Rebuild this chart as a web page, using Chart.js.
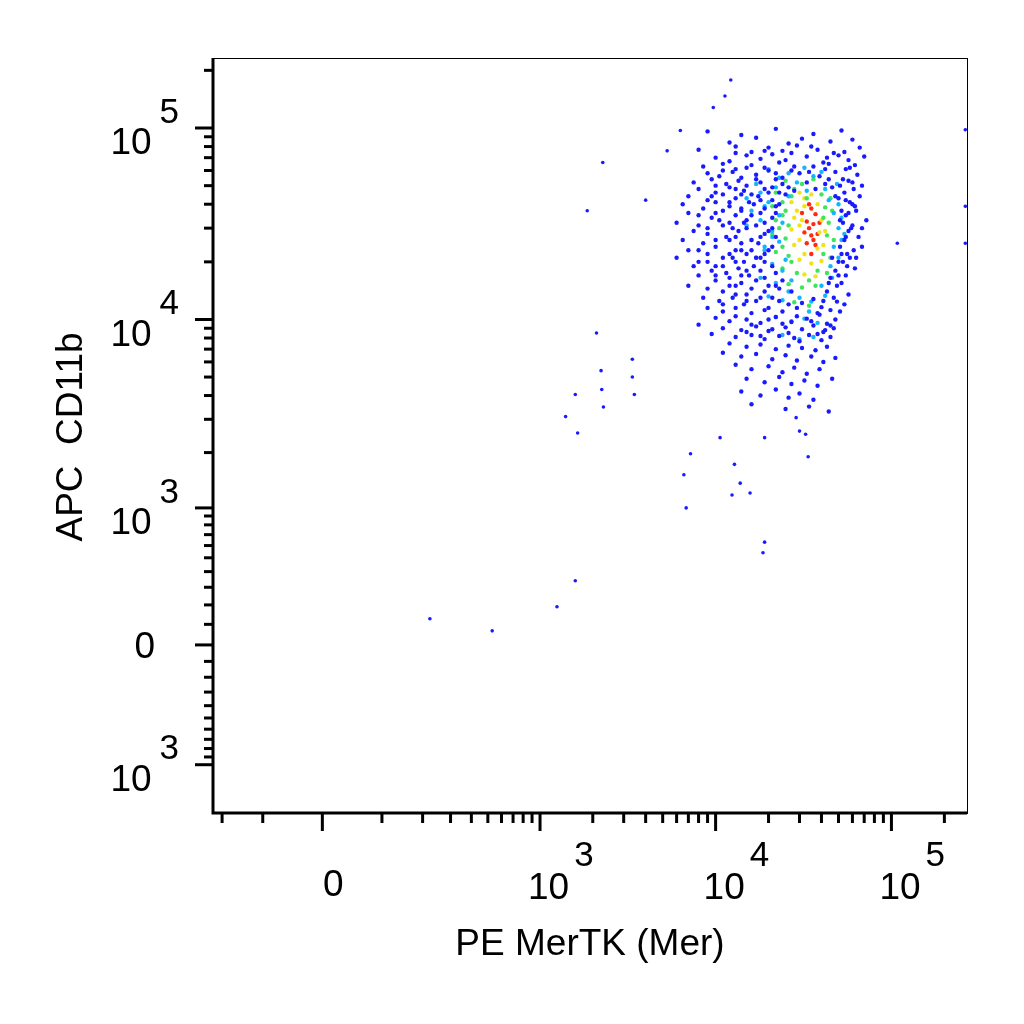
<!DOCTYPE html>
<html>
<head>
<meta charset="utf-8">
<script src="https://cdn.jsdelivr.net/npm/chart.js@4"></script>
<style>html,body{margin:0;padding:0;background:#fff}</style>
</head>
<body>
<canvas id="c" width="1024" height="1024"></canvas>
<script>
// axis settings (biexponential-ish display: asinh with separate widths for + and - sides)
const xRange = [-229, 269000];
const yRange = [-1860, 232000];
const xWidth = [116, 116];
const yWidth = [400, 502];
const xLabelTicks = [0, 1000, 10000, 100000];
const yLabelTicks = [-1000, 0, 1000, 10000, 100000];
const xLabelText = ["0", "10|3", "10|4", "10|5"];
const yLabelText = ["10|3", "0", "10|3", "10|4", "10|5"];

// events, values in thousands [x, y]
const outliers = [[0.223,0.128],[0.53,0.068],[1.25,0.19],[1.59,0.34],[18.6,0.54],[19,0.63],[12.4,1.18],[15.7,1.21],
  [6.8,1.0],[6.6,1.52],[7.2,1.97],[12.8,1.73],[13.8,1.37],[1.64,2.54],[1.4,3.1],[1.59,4.05],[2.3,3.48],[2.25,4.3],
  [2.23,5.4],[2.1,8.5],[3.36,5.0],[3.36,6.2],[3.45,4.05],[1.86,37],[2.28,66],[4.0,42],[5.3,76],[6.3,97],[9.7,128],
  [12.2,178],[11.3,147],[108,25],[263,98],[263,39],[263,25],[33.6,1.9],[30,2.6],[28.7,3.06],[32.5,2.5],[19,2.4],[10.6,2.4]];

const blue = [
  [9,96],[14,92],[22,99],[36,93],[52,97],
  [12,84],[17,89],[26,83],[31,88],[45,85],[60,87],
  [8,77],[13,80],[16,75],[20,79],[24,76],[29,81],[38,77],[47,74],[66,79],
  [10,70],[12,67],[15,72],[18,69],[21,73],[25,68],[33,71],[41,66],[50,72],[57,68],[70,71],
  [8.5,63],[11,65],[13,61],[16,64],[19,62],[23,66],[27,60],[36,63],[44,65],[55,61],[62,64],
  [9,58],[10.5,56],[12.5,59],[14,55],[17,57],[20,60],[24,55],[30,58],[39,56],[48,59],[53,54],[64,57],
  [7.5,52],[9.5,54],[11.5,51],[13.5,53],[15,50],[18,52],[22,54],[26,49],[33,52],[42,51],[57,53],[68,50],
  [8,48],[10,46],[12,49],[14.5,47],[16,45],[19,48],[23,46],[28,47],[46,49],[54,46],[61,48],
  [7,44],[9,42],[11,45],[13,43],[15.5,41],[17.5,44],[21,42],[25,45],[50,43],[58,41],[66,44],
  [6.5,40],[8.5,38],[10,41],[12,39],[14,37],[16.5,40],[19,38],[22,39],[52,37],[60,40],
  [7,36],[9.5,34],[11,37],[13,35],[15,33],[18,36],[21,34],[55,35],[63,37],[72,33],
  [6,32],[8,31],[10.5,33],[12.5,30],[14.5,32],[17,31],[20,29],[53,32],[59,30],
  [7.5,29],[9,28],[11.5,27],[13.5,29],[16,26],[19,28],[22,27],[57,29],[65,27],
  [6.5,26],[8.5,25],[10,24],[12,26],[14,23],[17.5,25],[21,24],[54,26],[61,23],
  [7,23],[9,22],[11,21],[13,23],[15,22],[18,21],[20,23],[52,22],[58,21],[68,24],
  [6,21],[8,20],[10,19],[12.5,21],[14.5,20],[16.5,19],[19,20],[50,20],[56,19],
  [7.5,19],[9.5,18],[11.5,17.5],[13.5,18.5],[15.5,17],[18,18],[22,17.5],[48,18],[55,17],[62,18.5],
  [8,17],[10,16],[12,16.5],[14,15.5],[17,16],[20,15],[24,16],[45,16.5],[52,15.5],
  [7,15],[9,14.5],[11,14],[13,15],[15,13.5],[19,14],[23,14.5],[43,14],[49,15],[57,13.5],
  [8.5,13],[10.5,12.5],[12.5,13],[14.5,12],[17,12.5],[21,13],[26,12],[41,12.5],[47,13],[54,12],
  [9,11.5],[11,11],[13,11.5],[16,10.8],[19,11.2],[24,11],[29,11.5],[38,10.8],[45,11.2],[51,11],
  [10,10.2],[12,9.8],[15,10],[18,9.6],[22,10.3],[27,9.7],[33,10.1],[43,9.5],[48,10],
  [8,9.4],[11,9],[14,8.8],[17,9.2],[20,8.7],[25,9.1],[31,8.9],[36,9.3],[41,8.6],[47,9],
  [9.5,8.4],[13,8.1],[16,8.3],[19,7.9],[23,8.2],[28,8],[34,8.3],[40,7.8],[45,8.1],
  [12,7.5],[15,7.2],[18,7.4],[22,7],[26,7.3],[31,7.1],[37,6.9],[43,7.2],
  [11,6.7],[14,6.4],[17,6.6],[21,6.2],[25,6.5],[29,6.1],[35,6.4],[41,6],[48,6.3],
  [13,5.8],[16,5.5],[20,5.7],[24,5.3],[28,5.6],[33,5.2],[39,5.5],
  [15,4.9],[19,4.7],[23,5],[27,4.6],[32,4.8],[38,4.5],[46,4.9],
  [14,4.2],[18,4.0],[22,4.3],[26,3.9],[30,4.1],[36,3.8],
  [16,3.6],[25,3.4],[34,3.5],[44,3.3],
  // denser body
  [13,74],[19,76],[27,74],[35,80],[43,70],[54,75],
  [11,60],[15,62],[22,58],[28,63],[34,59],[42,61],[58,62],
  [10,50],[13,48],[17,54],[21,49],[24,51],[37,48],[44,54],[51,50],[60,52],
  [9.5,44],[12,41],[14,45],[18,42],[20,46],[23,40],[48,44],[55,42],[62,39],
  [8,35],[10,36],[12,32],[14,38],[16,35],[19,32],[22,36],[51,33],[57,36],[68,30],
  [9,30],[11,31],[13,27],[15,30],[18,27],[21,30],[55,27],[60,31],
  [8,23],[10,26],[12,22],[14,25],[16,23],[19,22],[51,24],[56,22],[63,21],
  [9,20],[11,19],[13,20],[15,18],[17,21],[21,19],[46,21],[53,20],
  [10,17],[12,15],[14,17],[16,14.5],[19,16.5],[22,15],[27,14],[44,15.5],[50,17],
  [11,12],[13,13.5],[15,12.5],[18,13],[20,11.5],[23,12.5],[31,12.2],[36,12.8],[40,11.6],[49,12.4],
  [13,10.4],[16,9.4],[20,10],[24,9.5],[29,10.4],[35,9.8],[39,10.6],[45,9.3],
  [15,8.6],[18,8.2],[21,8.9],[26,8.5],[30,7.7],[38,8.4],[42,8.8]
];

const cyan = [
  [20,61],[26,58],[32,62],[40,59],[23,55],[36,56],
  [17,51],[22,49],[29,52],[42,48],[49,51],[33,47],
  [15,43],[20,41],[26,44],[44,42],[50,40],[18,46],
  [16,37],[23,35],[47,36],[52,34],[19,39],
  [15,31],[21,29],[24,32],[50,30],[54,28],[18,33],
  [16,26],[19,24],[23,25.5],[47,24],[52,26],[21,27],
  [17,21],[21,19.5],[25,20.5],[45,19],[50,21],[19,23],
  [18,16.5],[22,15.5],[27,16],[40,15],[46,16.5],[24,18],
  [20,13.2],[24,12.6],[30,13],[35,12.4],[42,13.3],[26,14],
  [22,10.3],[27,9.8],[32,10.1],[38,9.6],[34,11],
  [24,8.3],[30,7.9],[36,8.1]
];

const green = [
  [25,53],[31,51],[36,54],[28,48],
  [22,46],[27,44],[40,45],[45,43],[33,43],
  [21,39],[25,37],[42,38.5],[46,37],[24,41],
  [22,33],[26,31],[44,32],[24,35],[41,34],
  [21,28],[25,26.5],[43,27.5],[47,26],[23,30],
  [22,22.5],[26,21.5],[41,22],[45,21],[24,24],
  [24,18.5],[29,17.5],[38,18],[43,17.5],[27,20],
  [26,15.3],[31,14.7],[37,15],[34,16],
  [28,12.3],[34,11.8]
];

const yellow = [
  [30,46],[35,45],[32,43],
  [27,41],[32,39],[38,40],[29,37],
  [28,34],[40,33],[31,33],
  [27,29.5],[39,28.5],[42,29],[30,31],
  [28,24.5],[38,23.5],[41,24.5],[30,26],
  [30,20.5],[35,19.6],[40,20.2],[32,22],
  [32,17.2],[37,16.8]
];

const red = [
  [34,40],[31,36],[37,35.5],[33,32.5],[36,31.5],[39,32],[32,28.5],[35,27.5],[38,28],[33,25],[37,24.5],[35,22],
  [35,38],[34,30],[36,26]
];

const asinh = Math.asinh;

// signed asinh with its own width on each side of zero
function tf(v, w) {
  return v >= 0 ? asinh(v / w[0]) : asinh(v / w[1]);
}
function itf(t, w) {
  return t >= 0 ? w[0] * Math.sinh(t) : w[1] * Math.sinh(t);
}

class AsinhScale extends Chart.Scale {
  determineDataLimits() {
    this.min = this.options.min;
    this.max = this.options.max;
  }
  buildTicks() {
    return [{ value: this.min }, { value: this.max }];
  }
  getLabelForValue(v) { return String(v); }
  getPixelForValue(v) {
    const w = this.options.w;
    const t0 = tf(this.min, w), t1 = tf(this.max, w);
    return this.getPixelForDecimal((tf(v, w) - t0) / (t1 - t0));
  }
  getValueForPixel(p) {
    const w = this.options.w;
    const t0 = tf(this.min, w), t1 = tf(this.max, w);
    return itf(t0 + this.getDecimalForPixel(p) * (t1 - t0), w);
  }
}
AsinhScale.id = 'asinh';
AsinhScale.defaults = {};
Chart.register(AsinhScale);

const toPts = arr => arr.map(p => ({ x: p[0] * 1000, y: p[1] * 1000 }));

function minorTicks() {
  const out = [];
  for (let d = 100; d <= 100000; d *= 10) {
    for (let m = 1; m <= 9; m++) {
      if (m === 1 && d >= 1000) continue;
      out.push(m * d);
    }
  }
  return out;
}

const FONT = '"Liberation Sans", Arial, sans-serif';

const axisPlugin = {
  id: 'flowAxes',
  afterDraw(chart) {
    const ctx = chart.ctx;
    const a = chart.chartArea;
    const xs = chart.scales.x, ys = chart.scales.y;
    ctx.save();
    ctx.strokeStyle = '#000';
    ctx.lineWidth = 1;
    ctx.strokeRect(a.left + 0.5, a.top + 0.5, a.right - a.left, a.bottom - a.top);
    ctx.lineWidth = 3;
    ctx.beginPath();
    ctx.moveTo(a.left, a.top); ctx.lineTo(a.left, a.bottom); ctx.lineTo(a.right, a.bottom);
    ctx.stroke();

    const minors = minorTicks();
    ctx.lineWidth = 3;
    minors.concat(minors.map(v => -v)).forEach(v => {
      if (v < xRange[0] || v > xRange[1]) return;
      const px = xs.getPixelForValue(v);
      ctx.beginPath(); ctx.moveTo(px, a.bottom); ctx.lineTo(px, a.bottom + 10); ctx.stroke();
    });
    xLabelTicks.forEach(v => {
      const px = xs.getPixelForValue(v);
      ctx.beginPath(); ctx.moveTo(px, a.bottom); ctx.lineTo(px, a.bottom + 18); ctx.stroke();
    });
    minors.concat(minors.map(v => -v)).forEach(v => {
      if (v < yRange[0] || v > yRange[1]) return;
      const py = ys.getPixelForValue(v);
      ctx.beginPath(); ctx.moveTo(a.left, py); ctx.lineTo(a.left - 9, py); ctx.stroke();
    });
    yLabelTicks.forEach(v => {
      const py = ys.getPixelForValue(v);
      ctx.beginPath(); ctx.moveTo(a.left, py); ctx.lineTo(a.left - 18, py); ctx.stroke();
    });

    ctx.fillStyle = '#000';
    ctx.textBaseline = 'middle';
    xLabelTicks.forEach((v, i) => {
      const px = xs.getPixelForValue(v);
      const [base, sup] = xLabelText[i].split('|');
      ctx.font = '37px ' + FONT;
      if (!sup) { ctx.textAlign = 'center'; ctx.fillText(base, px + 11, 886); return; }
      ctx.textAlign = 'left';
      ctx.fillText(base, px - 12, 889);
      const bw = ctx.measureText(base).width;
      ctx.font = '35px ' + FONT;
      ctx.fillText(sup, px - 12 + bw + 5, 856);
    });
    yLabelTicks.forEach((v, i) => {
      const py = ys.getPixelForValue(v);
      const [base, sup] = yLabelText[i].split('|');
      ctx.font = '37px ' + FONT;
      if (!sup) { ctx.textAlign = 'right'; ctx.fillText(base, 155, py + 3); return; }
      ctx.font = '35px ' + FONT;
      ctx.textAlign = 'right';
      ctx.fillText(sup, 179, py - 15);
      const sw = ctx.measureText(sup).width;
      ctx.font = '37px ' + FONT;
      ctx.fillText(base, 179 - sw - 8, py + 16);
    });

    ctx.font = '37px ' + FONT;
    ctx.textAlign = 'center';
    ctx.fillText('PE MerTK (Mer)', 590, 945);
    ctx.translate(72, 437);
    ctx.rotate(-Math.PI / 2);
    ctx.fillText('APC  CD11b', 0, 0);
    ctx.restore();
  }
};

const ds = (data, color, r) => ({ data: toPts(data), backgroundColor: color, borderWidth: 0, pointRadius: r });

new Chart(document.getElementById('c'), {
  type: 'scatter',
  data: {
    datasets: [
      ds(outliers, '#1a1aff', 1.8),
      ds(blue, '#1a1aff', 2.2),
      ds(cyan, '#14b4ff', 2.2),
      ds(green, '#3ee45a', 2.2),
      ds(yellow, '#f2e21a', 2.2),
      ds(red, '#ff2a10', 2.2)
    ]
  },
  options: {
    responsive: false,
    animation: false,
    devicePixelRatio: 1,
    layout: { padding: { left: 0, right: 57, top: 58, bottom: 0 } },
    plugins: { legend: { display: false }, tooltip: { enabled: false } },
    scales: {
      x: { type: 'asinh', min: xRange[0], max: xRange[1], w: xWidth,
           grid: { display: false }, border: { display: false }, ticks: { display: false },
           afterFit: s => { s.height = 211; } },
      y: { type: 'asinh', position: 'left', min: yRange[0], max: yRange[1], w: yWidth,
           grid: { display: false }, border: { display: false }, ticks: { display: false },
           afterFit: s => { s.width = 213; } }
    }
  },
  plugins: [axisPlugin]
});
</script>
</body>
</html>
